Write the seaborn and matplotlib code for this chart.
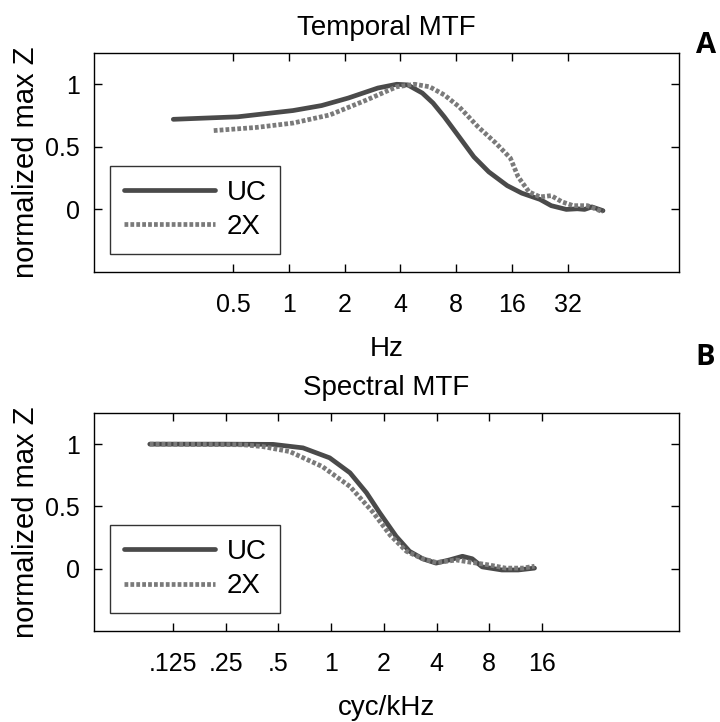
import numpy as np
import pandas as pd
import seaborn as sns
import matplotlib.pyplot as plt

# --- datos ---
# MTF temporal (Hz)
temp_uc_hz = [0.237, 0.528, 1.05, 1.5, 2.09, 3.02, 3.82, 4.38, 5.25, 6.0, 6.9, 8.3, 9.97, 12.0,
              15.1, 18.1, 22.7, 26.1, 31.5, 36.1, 39.5, 43.3, 49.7]
temp_uc_z = [0.72, 0.74, 0.79, 0.83, 0.89, 0.97, 1.0, 0.995, 0.93, 0.85, 0.74, 0.58, 0.42, 0.30,
             0.19, 0.13, 0.08, 0.03, 0.0, 0.005, 0.0, 0.02, -0.01]
temp_2x_hz = [0.392, 0.665, 1.05, 1.66, 2.63, 3.82, 4.78, 5.75, 6.9, 8.3, 10.5, 13.1,
              15.7, 17.3, 19.8, 22.7, 26.1, 29.9, 34.3, 41.0, 49.7]
temp_2x_z = [0.63, 0.655, 0.69, 0.755, 0.875, 0.98, 1.0, 0.98, 0.915, 0.82, 0.66, 0.53,
             0.41, 0.26, 0.14, 0.10, 0.11, 0.06, 0.03, 0.03, -0.02]

# MTF espectral (cyc/kHz)
spec_uc_f = [0.092, 0.241, 0.466, 0.69, 0.98, 1.28, 1.59, 1.89, 2.35, 2.80, 3.33, 3.97,
             4.72, 5.62, 6.39, 7.28, 9.44, 11.7, 14.5]
spec_uc_z = [1.0, 1.0, 0.998, 0.97, 0.89, 0.77, 0.61, 0.45, 0.26, 0.14, 0.08, 0.045,
             0.07, 0.10, 0.08, 0.015, -0.01, -0.01, 0.005]
spec_2x_f = [0.092, 0.314, 0.408, 0.58, 0.89, 1.28, 1.74, 2.17, 2.69, 3.33, 4.0, 5.19,
             6.39, 8.0, 9.9, 12.4, 14.5]
spec_2x_z = [1.0, 0.995, 0.98, 0.94, 0.82, 0.66, 0.45, 0.27, 0.14, 0.08, 0.05, 0.07,
             0.05, 0.03, 0.005, 0.005, 0.02]

temp_ticks = [0.5, 1, 2, 4, 8, 16, 32]
temp_labels = ["0.5", "1", "2", "4", "8", "16", "32"]
spec_ticks = [0.125, 0.25, 0.5, 1, 2, 4, 8, 16]
spec_labels = [".125", ".25", ".5", "1", "2", "4", "8", "16"]

sns.set_style("ticks")
plt.rcParams['font.family'] = ['Liberation Sans', 'DejaVu Sans']
plt.rcParams['xtick.direction'] = 'in'
plt.rcParams['ytick.direction'] = 'in'
plt.rcParams['text.color'] = 'black'
plt.rcParams['axes.labelcolor'] = 'black'
plt.rcParams['xtick.color'] = 'black'
plt.rcParams['ytick.color'] = 'black'

col_uc = "#4a4a4a"
col_2x = "#7a7a7a"

fig = plt.figure(figsize=(7.2, 7.22), dpi=100)
ax1 = fig.add_axes([0.1306, 0.6233, 0.8125, 0.3033])
ax2 = fig.add_axes([0.1306, 0.126, 0.8125, 0.302])

paneles = [
    (ax1, temp_uc_hz, temp_uc_z, temp_2x_hz, temp_2x_z, temp_ticks, temp_labels,
     (2 ** -3.5, 2 ** 7), "Temporal MTF", "Hz"),
    (ax2, spec_uc_f, spec_uc_z, spec_2x_f, spec_2x_z, spec_ticks, spec_labels,
     (2 ** -4.5, 97), "Spectral MTF", "cyc/kHz"),
]

for ax, xu, yu, x2, y2, ticks, labels, xlim, titulo, xlab in paneles:
    sns.lineplot(x=xu, y=yu, ax=ax, color=col_uc, lw=3.4, label="UC",
                 sort=False, estimator=None)
    sns.lineplot(x=x2, y=y2, ax=ax, color=col_2x, lw=3.4, label="2X",
                 sort=False, estimator=None, linestyle=(0, (0.8, 0.45)))
    ax.set_xscale("log")
    ax.set_xlim(*xlim)
    ax.set_ylim(-0.5, 1.25)
    ax.set_xticks(ticks)
    ax.set_xticklabels(labels)
    ax.minorticks_off()
    ax.set_yticks([0, 0.5, 1])
    ax.set_yticklabels(["0", "0.5", "1"])
    ax.tick_params(axis="both", labelsize=18, length=6, width=1, top=True,
                   right=True, colors="black")
    ax.tick_params(axis="x", pad=15)
    ax.tick_params(axis="y", pad=10)
    for s in ax.spines.values():
        s.set_linewidth(1.0)
        s.set_color("black")
    ax.set_title(titulo, fontsize=20, pad=13, color="black")
    ax.set_xlabel(xlab, fontsize=20, labelpad=14)
    ax.set_ylabel("normalized max Z", fontsize=21, labelpad=4)
    leg = ax.legend(loc="lower left", bbox_to_anchor=(0.027, 0.082),
                    borderaxespad=0, fontsize=20, handlelength=3.3,
                    fancybox=False, frameon=True, edgecolor="black",
                    borderpad=0.5, labelspacing=0.3, handletextpad=0.4)
    leg.get_frame().set_linewidth(1.0)
    for t in leg.get_texts():
        t.set_color("black")

fig.text(0.98, 0.937, "A", fontsize=21, fontweight="bold",
         family=["Open Sans", "DejaVu Sans"], ha="center", va="center")
fig.text(0.98, 0.505, "B", fontsize=21, fontweight="bold",
         family=["Open Sans", "DejaVu Sans"], ha="center", va="center")

fig.savefig("out.png", dpi=100)
